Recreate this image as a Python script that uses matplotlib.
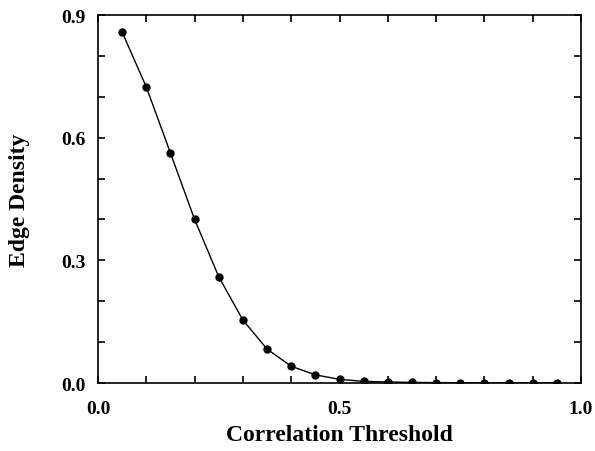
import matplotlib.pyplot as plt
from matplotlib.ticker import MultipleLocator, FixedLocator

# edge density vs correlation threshold
thresholds = [0.05, 0.10, 0.15, 0.20, 0.25, 0.30, 0.35, 0.40, 0.45, 0.50,
              0.55, 0.60, 0.65, 0.70, 0.75, 0.80, 0.85, 0.90, 0.95]
density = [0.858, 0.724, 0.5625, 0.400, 0.260, 0.154, 0.083, 0.041, 0.020,
           0.009, 0.004, 0.0025, 0.0015, 0.001, 0.0007, 0.0005, 0.0003,
           0.0002, 0.0001]

x_ticks = [0.0, 0.5, 1.0]
y_ticks = [0.0, 0.3, 0.6, 0.9]

plt.rcParams["font.family"] = ["Liberation Serif", "DejaVu Serif"]
plt.rcParams["font.weight"] = "bold"

fig = plt.figure(figsize=(5.95, 4.52), dpi=100)
ax = fig.add_axes([0.1647, 0.1504, 0.8118, 0.8142])

ax.plot(thresholds, density, color="black", linewidth=1.0,
        marker="o", markersize=5, markerfacecolor="black")

ax.set_xlim(0, 1.0)
ax.set_ylim(0, 0.9)
ax.xaxis.set_major_locator(FixedLocator(x_ticks))
ax.yaxis.set_major_locator(FixedLocator(y_ticks))
ax.xaxis.set_minor_locator(MultipleLocator(0.1))
ax.yaxis.set_minor_locator(MultipleLocator(0.1))
ax.set_xticklabels(["%.1f" % v for v in x_ticks])
ax.set_yticklabels(["%.1f" % v for v in y_ticks])

ax.tick_params(which="both", direction="in", top=True, right=True,
               length=5, width=1.2, labelsize=14)
ax.tick_params(axis="x", which="major", pad=12)
ax.tick_params(axis="y", which="major", pad=9)
for s in ax.spines.values():
    s.set_linewidth(1.2)

ax.set_xlabel("Correlation Threshold", fontsize=17, fontweight="bold")
ax.set_ylabel("Edge Density", fontsize=17, fontweight="bold")
ax.xaxis.set_label_coords(0.5, -0.112)
ax.yaxis.set_label_coords(-0.14, 0.5)

fig.savefig("out.png", dpi=100)
